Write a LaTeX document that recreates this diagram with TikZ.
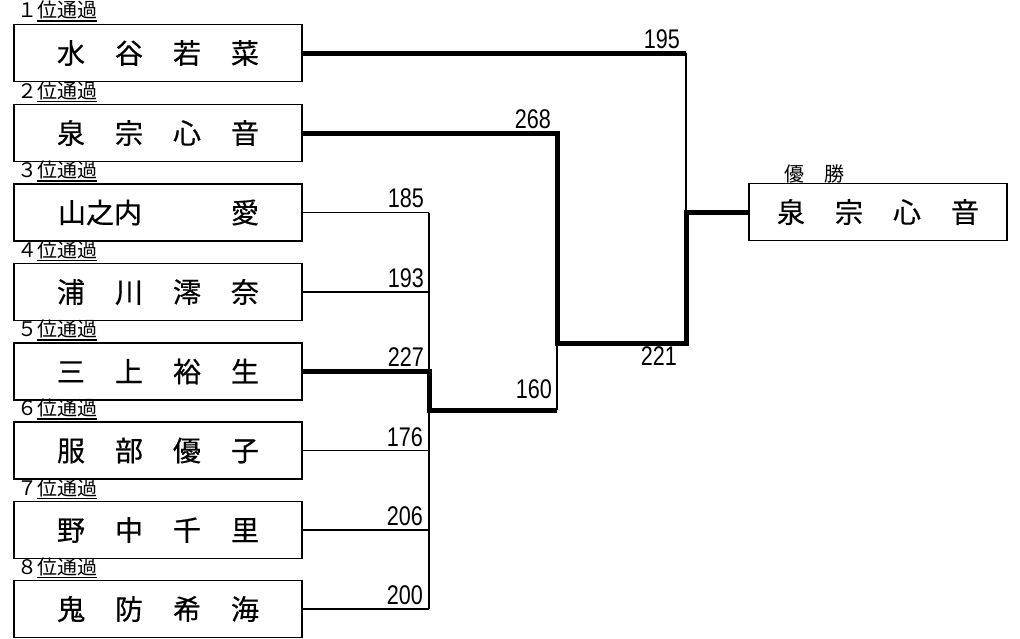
\documentclass[tikz,border=0pt]{standalone}
\usepackage{fontspec}
\usepackage{graphicx}
\newfontfamily\cjk[FakeBold=0.5]{Noto Sans CJK JP}
\newfontfamily\cjksm{Noto Sans CJK JP}
\newfontfamily\numfont{Liberation Sans}
\newcommand\nmfour[4]{\makebox[58pt]{#1}\makebox[58pt]{#2}\makebox[58pt]{#3}\makebox[58pt]{#4}}
\newcommand\rkul[1]{\setbox0\hbox{#1}\rlap{\rule[-4.1pt]{\wd0}{1.3pt}}\box0}
\newcommand\nsc[1]{\scalebox{0.8}[1]{#1}}
\tikzset{
  pbox/.style={draw, fill=white, line width=1.8pt, minimum width=288pt, minimum height=57pt, inner sep=0pt, font=\cjk\fontsize{28pt}{28pt}\selectfont},
  cbox/.style={pbox, minimum width=258pt},
  rank/.style={inner sep=0pt, anchor=base west, font=\cjksm\fontsize{20pt}{20pt}\selectfont},
  num/.style={inner sep=0pt, anchor=base east, font=\numfont\fontsize{27pt}{27pt}\selectfont},
  thinln/.style={line width=1.3pt},
  thickln/.style={line width=5pt, line join=miter},
}
\begin{document}
\begin{tikzpicture}[x=1pt,y=-1pt]
\fill[white] (0,0) rectangle (1020,638);
\useasboundingbox (0,0) rectangle (1020,638);
% boxes
\node[pbox] (p1) at (158,53) {\nmfour{水}{谷}{若}{菜}};
\node[pbox] (p2) at (158,133) {\nmfour{泉}{宗}{心}{音}};
\node[pbox] (p3) at (158,212.5) {\makebox[174pt][l]{\hspace{16pt}山之内}\makebox[58pt]{愛}};
\node[pbox] (p4) at (158,292) {\nmfour{浦}{川}{澪}{奈}};
\node[pbox] (p5) at (158,371.5) {\nmfour{三}{上}{裕}{生}};
\node[pbox] (p6) at (158,450.5) {\nmfour{服}{部}{優}{子}};
\node[pbox] (p7) at (158,530) {\nmfour{野}{中}{千}{里}};
\node[pbox] (p8) at (158,609) {\nmfour{鬼}{防}{希}{海}};
\node[cbox] (champ) at (878,212) {\nmfour{泉}{宗}{心}{音}};
% rank labels
\node[rank] (r1) at (17,17.5) {１\rkul{位通過}};
\node[rank] (r2) at (17,98) {２\rkul{位通過}};
\node[rank] (r3) at (17,177.5) {３\rkul{位通過}};
\node[rank] (r4) at (17,257) {４\rkul{位通過}};
\node[rank] (r5) at (17,336.5) {５\rkul{位通過}};
\node[rank] (r6) at (17,415.5) {６\rkul{位通過}};
\node[rank] (r7) at (17,495) {７\rkul{位通過}};
\node[rank] (r8) at (17,574) {８\rkul{位通過}};
\node[rank] (win) at (784,181) {優　勝};
% junction coordinates
\coordinate (g) at (429,410);
\coordinate (s) at (557,410);
\coordinate (f) at (557,343);
\coordinate (t) at (686,343);
% first round (group of six)
\draw[thinln] (p3.east) -- (p3.east -| g);
\draw[thinln] (p4.east) -- (p4.east -| g);
\draw[thinln] (p6.east) -- (p6.east -| g);
\draw[thinln] (p7.east) -- (p7.east -| g);
\draw[thinln] (p8.east) -- (p8.east -| g);
\draw[thinln] (p3.east -| g) -- (p8.east -| g);
\draw[thickln] (p5.east) -- (p5.east -| g) -- (g) -- (s);
% second round
\draw[thinln] (s) -- (f);
\draw[thickln] (p2.east) -- (p2.east -| f) -- (f) -- (t) -- (t |- champ.west) -- (champ.west);
% final
\draw[thinln] (p1.east -| t) -- (t |- champ.west);
\draw[thickln] (p1.east) -- (p1.east -| t);
% scores
\node[num] (n195) at (680,48) {\nsc{195}};
\node[num] (n268) at (551,128) {\nsc{268}};
\node[num] (n185) at (424,207.5) {\nsc{185}};
\node[num] (n193) at (424,287) {\nsc{193}};
\node[num] (n227) at (424,366.5) {\nsc{227}};
\node[num] (n176) at (423,446) {\nsc{176}};
\node[num] (n206) at (423,525) {\nsc{206}};
\node[num] (n200) at (423,604) {\nsc{200}};
\node[num] (n160) at (552,398) {\nsc{160}};
\node[num] (n221) at (677,365) {\nsc{221}};
\end{tikzpicture}
\end{document}
